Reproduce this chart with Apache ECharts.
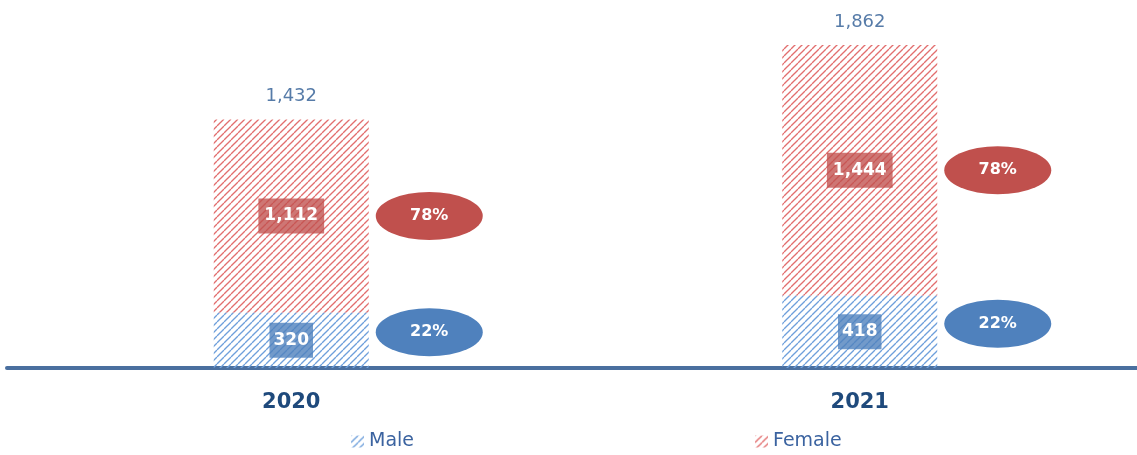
<!DOCTYPE html>
<html>
<head>
<meta charset="utf-8">
<script src="https://cdn.jsdelivr.net/npm/echarts@6/dist/echarts.min.js"></script>
<style>
html,body{margin:0;padding:0;background:#fff;}
#chart{width:1137px;height:455px;}
</style>
</head>
<body>
<div id="chart"></div>
<script>
const years = ['2020', '2021'];
const male = [320, 418];
const female = [1112, 1444];
const totals = [1432, 1862];

function hatch(color) {
  const s = 7;
  const c = document.createElement('canvas');
  c.width = s; c.height = s;
  const ctx = c.getContext('2d');
  ctx.strokeStyle = color;
  ctx.lineWidth = 1.3;
  for (const o of [-s, 0, s]) {
    ctx.beginPath();
    ctx.moveTo(o, s);
    ctx.lineTo(o + s, 0);
    ctx.stroke();
  }
  return { image: c, repeat: 'repeat' };
}

const FONT = 'DejaVu Sans';
const RED = '#c0504d', BLUE = '#4f81bd';
const malePct = male.map((m, i) => Math.round(m / totals[i] * 100) + '%');
const femalePct = female.map((f, i) => Math.round(f / totals[i] * 100) + '%');

const chart = echarts.init(document.getElementById('chart'));
chart.setOption({
  animation: false,
  textStyle: { fontFamily: FONT },
  grid: { left: 7, width: 1137, top: 21, bottom: 87, outerBoundsMode: 'none', containLabel: false },
  legend: [
    { data: ['Male'], left: 346, top: 427, icon: 'rect', itemWidth: 13, itemHeight: 12, itemGap: 4,
      textStyle: { color: '#3b63a0', fontSize: 19, fontFamily: FONT } },
    { data: ['Female'], left: 750, top: 427, icon: 'rect', itemWidth: 13, itemHeight: 12, itemGap: 4,
      textStyle: { color: '#3b63a0', fontSize: 19, fontFamily: FONT } }
  ],
  xAxis: {
    type: 'category', data: years,
    axisLine: { lineStyle: { color: '#4a6f9f', width: 4 } },
    axisTick: { show: false },
    axisLabel: { color: '#1f4a7c', fontWeight: 'bold', fontSize: 21, fontFamily: FONT, margin: 24 }
  },
  yAxis: { type: 'value', min: 0, max: 2000, show: false, splitLine: { show: false } },
  series: [
    {
      name: 'Male', type: 'bar', stack: 'a', barWidth: 155, data: male,
      itemStyle: { color: hatch('#6e9fdb') },
      label: { show: true, position: 'inside', color: '#fff', fontWeight: 'bold', fontSize: 17,
        backgroundColor: 'rgba(79,129,189,0.8)', padding: [10, 4, 8, 4],
        formatter: p => p.value.toLocaleString('en-US') }
    },
    {
      name: 'Female', type: 'bar', stack: 'a', barWidth: 155, data: female,
      itemStyle: { color: hatch('#e26e6e') },
      label: { show: true, position: 'inside', color: '#fff', fontWeight: 'bold', fontSize: 17,
        backgroundColor: 'rgba(192,80,77,0.78)', padding: [10, 6, 8, 6],
        formatter: p => p.value.toLocaleString('en-US') }
    },
    {
      name: 'Total', type: 'scatter', data: totals, symbolSize: 0, silent: true,
      label: { show: true, position: 'top', distance: 14, color: '#2c5a92', fontSize: 18,
        formatter: p => p.value.toLocaleString('en-US') }
    },
    {
      name: 'MalePct', type: 'scatter', silent: true,
      data: male.map(m => m / 2),
      symbol: 'circle', symbolSize: [107, 48], symbolOffset: [138, -8],
      itemStyle: { color: BLUE, opacity: 1 },
      label: { show: true, position: 'inside', color: '#fff', fontWeight: 'bold', fontSize: 16,
        formatter: p => malePct[p.dataIndex] }
    },
    {
      name: 'FemalePct', type: 'scatter', silent: true,
      data: male.map((m, i) => m + female[i] / 2),
      symbol: 'circle', symbolSize: [107, 48], symbolOffset: [138, 0],
      itemStyle: { color: RED, opacity: 1 },
      label: { show: true, position: 'inside', color: '#fff', fontWeight: 'bold', fontSize: 16,
        formatter: p => femalePct[p.dataIndex] }
    }
  ]
});
</script>
</body>
</html>
